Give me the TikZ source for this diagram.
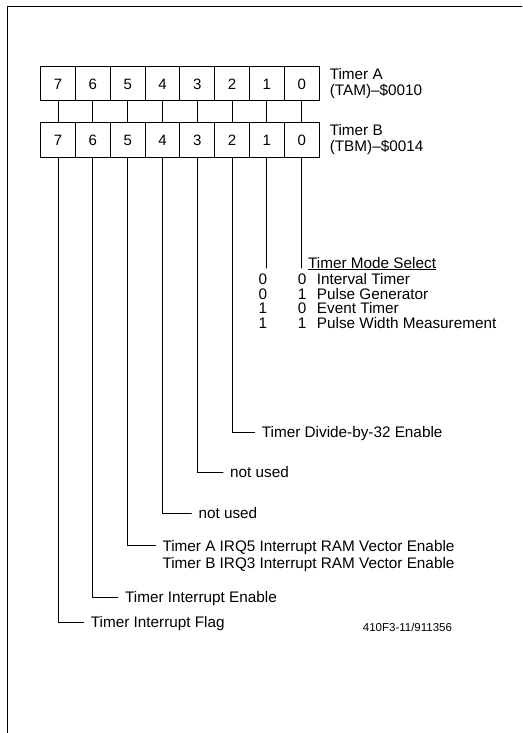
\documentclass[tikz,border=0pt]{standalone}
\usepackage{fontspec}
\setmainfont{Liberation Sans}
\usetikzlibrary{positioning}
\tikzset{
  bitcell/.style={draw,line width=1pt,minimum width=34.8pt,minimum height=34pt,inner sep=0pt,font=\fontsize{15}{16}\selectfont},
  lbl/.style={inner xsep=7pt,inner ysep=0pt,text height=11pt,text depth=0pt,font=\fontsize{15.3}{16}\selectfont},
  reglbl/.style={inner xsep=7pt,inner ysep=0pt,align=left,font=\fontsize{15.3}{16}\selectfont},
  wire/.style={line width=1pt},
}
\begin{document}
\begin{tikzpicture}[x=1pt,y=-1pt,line cap=round]
  \useasboundingbox (0,0) rectangle (522,733);
  \draw[line width=0.8pt] (7,733) -- (7,6) -- (522,6);
  % the two mode registers
  \foreach \i in {7,...,0} {
    \node[bitcell] (a\i) at ({40.7+(7.5-\i)*34.8},84) {\i};
    \node[bitcell] (b\i) at ({40.7+(7.5-\i)*34.8},140) {\i};
    \draw[wire] (a\i.south) -- (b\i.north);
  }
  \node[reglbl,right=3pt of a0] (rega) {Timer A\\(TAM)--\$0010};
  \node[reglbl,right=3pt of b0] (regb) {Timer B\\(TBM)--\$0014};
  % mode select table
  \node[lbl,anchor=base west,inner xsep=0pt,text height=,text depth=] (modehdr) at (308,268) {\underline{Timer Mode Select}};
  \draw[wire] (b1.south) -- (b1.south |- modehdr.base);
  \draw[wire] (b0.south) -- (b0.south |- modehdr.base);
  \foreach \m/\n/\t [count=\r] in {0/0/Interval Timer,0/1/Pulse Generator,1/0/Event Timer,1/1/Pulse Width Measurement} {
    \node[lbl,inner xsep=0pt,anchor=base] (mh\r) at (263,{270.3+14.5*\r}) {\m};
    \node[lbl,inner xsep=0pt,anchor=base] (ml\r) at (302,{270.3+14.5*\r}) {\n};
    \node[lbl,inner xsep=0pt,anchor=base west] (mt\r) at (316.7,{270.3+14.5*\r}) {\t};
  }
  % bit descriptions
  \node[lbl,anchor=west] (lbl2) at (254.7,432.3) {Timer Divide-by-32 Enable};
  \node[lbl,anchor=west] (lbl3) at (223,472.3) {not used};
  \node[lbl,anchor=west] (lbl4) at (191.3,513.3) {not used};
  \node[lbl,anchor=west] (lbl5) at (155.3,545.7) {Timer A IRQ5 Interrupt RAM Vector Enable};
  \node[lbl,anchor=base west] (lbl5b) at ([yshift=-17pt]lbl5.base west) {Timer B IRQ3 Interrupt RAM Vector Enable};
  \node[lbl,anchor=west] (lbl6) at (118,597.3) {Timer Interrupt Enable};
  \node[lbl,anchor=west] (lbl7) at (83.7,622.3) {Timer Interrupt Flag};
  \foreach \i in {2,...,7} {
    \draw[wire] (b\i.south) |- (lbl\i.west);
  }
  \node[inner sep=0pt,anchor=west,font=\fontsize{11.5}{12}\selectfont] (figcode) at (362.7,627.3) {410F3-11/911356};
\end{tikzpicture}
\end{document}
